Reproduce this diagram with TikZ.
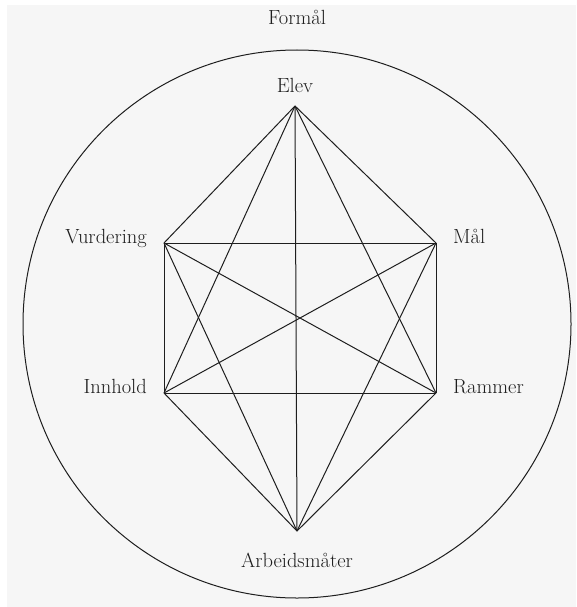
\documentclass[tikz,border=0pt]{standalone}
\usepackage{tikz}
\usetikzlibrary{positioning}
\definecolor{paperGray}{HTML}{F6F6F6}
\definecolor{inkGray}{HTML}{1E1E1E}

\begin{document}
\begin{tikzpicture}[
  x=1pt,y=-1pt,
  lbl/.style={inner sep=0pt,font=\fontsize{20.5}{23}\selectfont,text=inkGray},
  link/.style={draw=inkGray,line width=1pt}
]
\useasboundingbox (0,0) rectangle (576,607);
\fill[paperGray] (7,5) rectangle (576,607);
\node[circle,draw=inkGray,line width=1pt,minimum size=548pt,inner sep=0pt] (formal) at (297,324) {};
\coordinate (elev) at (295,106);
\coordinate (vur) at (164,243);
\coordinate (maal) at (436,243);
\coordinate (innh) at (164,393);
\coordinate (ramm) at (436,393);
\coordinate (arb) at (297,531);
\node[lbl,above=25pt of formal.north] (formalLbl) {Formål};
\node[lbl,above=13pt of elev] (elevLbl) {Elev};
\node[lbl,base left=17pt of vur] (vurLbl) {Vurdering};
\node[lbl,base right=17pt of maal] (maalLbl) {Mål};
\node[lbl,base left=17pt of innh] (innhLbl) {Innhold};
\node[lbl,base right=17pt of ramm] (rammLbl) {Rammer};
\node[lbl,below=22pt of arb] (arbLbl) {Arbeidsmåter};
\draw[link] (elev) -- (vur);
\draw[link] (elev) -- (maal);
\draw[link] (elev) -- (innh);
\draw[link] (elev) -- (ramm);
\draw[link] (elev) -- (arb);
\draw[link] (vur) -- (maal);
\draw[link] (vur) -- (innh);
\draw[link] (vur) -- (ramm);
\draw[link] (vur) -- (arb);
\draw[link] (maal) -- (innh);
\draw[link] (maal) -- (ramm);
\draw[link] (maal) -- (arb);
\draw[link] (innh) -- (ramm);
\draw[link] (innh) -- (arb);
\draw[link] (ramm) -- (arb);
\end{tikzpicture}
\end{document}
